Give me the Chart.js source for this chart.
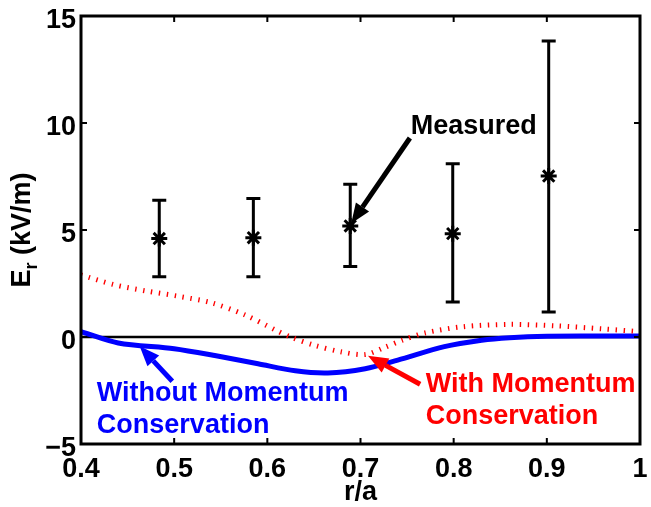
<!DOCTYPE html>
<html>
<head>
<meta charset="utf-8">
<script src="https://cdn.jsdelivr.net/npm/chart.js@4.4.0/dist/chart.umd.min.js"></script>
<style>
  html, body { margin: 0; padding: 0; background: #fff; }
</style>
</head>
<body>
<canvas id="chart" width="651" height="507"></canvas>
<script>
// Measured E_r with error bars
const measR = [0.484, 0.585, 0.689, 0.799, 0.902];
const measE = [4.6, 4.64, 5.19, 4.83, 7.52];
const measHi = [6.39, 6.47, 7.14, 8.1, 13.83];
const measLo = [2.82, 2.82, 3.3, 1.64, 1.17];

// Model without momentum conservation (blue solid)
const noMomR = [0.40, 0.44, 0.50, 0.545, 0.59, 0.63, 0.665, 0.705, 0.74, 0.79, 0.83, 0.86, 0.90, 0.95, 1.0];
const noMomE = [0.25, -0.28, -0.55, -0.88, -1.25, -1.58, -1.68, -1.48, -1.08, -0.45, -0.15, -0.03, 0.04, 0.05, 0.05];

// Model with momentum conservation (red dotted)
const withMomR = [0.40, 0.435, 0.47, 0.505, 0.54, 0.575, 0.61, 0.625, 0.65, 0.68, 0.705, 0.725, 0.745, 0.77, 0.81, 0.86, 0.91, 0.96, 1.0];
const withMomE = [2.9, 2.45, 2.15, 1.9, 1.6, 1.05, 0.3, 0.0, -0.38, -0.7, -0.82, -0.5, -0.15, 0.2, 0.48, 0.59, 0.52, 0.38, 0.25];

const xTicks = [0.4, 0.5, 0.6, 0.7, 0.8, 0.9, 1];
const xTickLabels = ['0.4', '0.5', '0.6', '0.7', '0.8', '0.9', '1'];
const yTicks = [-5, 0, 5, 10, 15];
const yTickLabels = ['\u22125', '0', '5', '10', '15'];

const FONT = "'Liberation Sans', Arial, Helvetica, sans-serif";

// annotation text + arrows, in data coordinates
const notes = [
    { lines: ['Measured'], x: 0.754, y: 9.47, color: '#000', tail: [0.753, 9.3], tip: [0.690, 5.3] },
    { lines: ['Without Momentum', 'Conservation'], x: 0.417, y: -2.99, color: '#0000ff', tail: [0.498, -2.07], tip: [0.463, -0.43] },
    { lines: ['With Momentum', 'Conservation'], x: 0.770, y: -2.58, color: '#ff0000', tail: [0.764, -2.21], tip: [0.708, -0.88] }
];

function toPts(xs, ys) {
    return xs.map((x, i) => ({ x: x, y: ys[i] }));
}

function drawArrow(ctx, x0, y0, x1, y1, color) {
    const ang = Math.atan2(y1 - y0, x1 - x0);
    const headLen = 20, headW = 8;
    const bx = x1 - headLen * Math.cos(ang), by = y1 - headLen * Math.sin(ang);
    ctx.strokeStyle = color;
    ctx.lineWidth = 5;
    ctx.beginPath();
    ctx.moveTo(x0, y0);
    ctx.lineTo(bx, by);
    ctx.stroke();
    ctx.fillStyle = color;
    ctx.beginPath();
    ctx.moveTo(x1, y1);
    ctx.lineTo(bx + headW * Math.sin(ang), by - headW * Math.cos(ang));
    ctx.lineTo(bx - headW * Math.sin(ang), by + headW * Math.cos(ang));
    ctx.closePath();
    ctx.fill();
}

const matlabAxes = {
    id: 'matlabAxes',
    beforeDatasetsDraw(chart) {
        const { ctx, chartArea: a, scales: { x, y } } = chart;
        ctx.save();
        // zero line
        ctx.strokeStyle = '#000';
        ctx.lineWidth = 2.5;
        ctx.beginPath();
        ctx.moveTo(a.left, y.getPixelForValue(0));
        ctx.lineTo(a.right, y.getPixelForValue(0));
        ctx.stroke();
        // error bars
        ctx.lineWidth = 3;
        measR.forEach((r, i) => {
            const px = x.getPixelForValue(r);
            const hi = y.getPixelForValue(measHi[i]);
            const lo = y.getPixelForValue(measLo[i]);
            ctx.beginPath();
            ctx.moveTo(px, hi); ctx.lineTo(px, lo);
            ctx.moveTo(px - 7, hi); ctx.lineTo(px + 7, hi);
            ctx.moveTo(px - 7, lo); ctx.lineTo(px + 7, lo);
            ctx.stroke();
        });
        ctx.restore();
    },
    afterDraw(chart) {
        const { ctx, chartArea: a, scales: { x, y } } = chart;
        ctx.save();
        ctx.strokeStyle = '#000';
        ctx.lineWidth = 3;
        ctx.strokeRect(a.left, a.top, a.right - a.left, a.bottom - a.top);
        ctx.lineWidth = 2;
        ctx.beginPath();
        xTicks.forEach(v => {
            const px = x.getPixelForValue(v);
            ctx.moveTo(px, a.bottom); ctx.lineTo(px, a.bottom - 6);
            ctx.moveTo(px, a.top); ctx.lineTo(px, a.top + 6);
        });
        yTicks.forEach(v => {
            const py = y.getPixelForValue(v);
            ctx.moveTo(a.left, py); ctx.lineTo(a.left + 6, py);
            ctx.moveTo(a.right, py); ctx.lineTo(a.right - 6, py);
        });
        ctx.stroke();

        // tick labels
        ctx.fillStyle = '#000';
        ctx.font = 'bold 27px ' + FONT;
        ctx.textBaseline = 'alphabetic';
        ctx.textAlign = 'center';
        xTicks.forEach((v, i) => ctx.fillText(xTickLabels[i], x.getPixelForValue(v), a.bottom + 33));
        ctx.textAlign = 'right';
        yTicks.forEach((v, i) => ctx.fillText(yTickLabels[i], a.left - 5, y.getPixelForValue(v) + 12));

        // annotations
        ctx.textAlign = 'left';
        notes.forEach(n => {
            ctx.fillStyle = n.color;
            const tx = x.getPixelForValue(n.x);
            const ty = y.getPixelForValue(n.y);
            n.lines.forEach((s, k) => ctx.fillText(s, tx, ty + k * 32));
            drawArrow(ctx, x.getPixelForValue(n.tail[0]), y.getPixelForValue(n.tail[1]),
                x.getPixelForValue(n.tip[0]), y.getPixelForValue(n.tip[1]), n.color);
        });

        // axis titles
        ctx.fillStyle = '#000';
        ctx.textAlign = 'center';
        ctx.fillText('r/a', (a.left + a.right) / 2, 500);

        ctx.translate(30, (a.top + a.bottom) / 2);
        ctx.rotate(-Math.PI / 2);
        ctx.textAlign = 'left';
        const big = 'bold 27px ' + FONT, small = 'bold 18px ' + FONT;
        ctx.font = big;
        const wE = ctx.measureText('E').width;
        const wRest = ctx.measureText(' (kV/m)').width;
        ctx.font = small;
        const wR = ctx.measureText('r').width;
        let cx = -(wE + wR + wRest) / 2;
        ctx.font = big;
        ctx.fillText('E', cx, 0);
        cx += wE;
        ctx.font = small;
        ctx.fillText('r', cx, 7);
        cx += wR;
        ctx.font = big;
        ctx.fillText(' (kV/m)', cx, 0);
        ctx.restore();
    }
};

new Chart(document.getElementById('chart'), {
    type: 'scatter',
    data: {
        datasets: [
            {
                label: 'With Momentum Conservation',
                data: toPts(withMomR, withMomE),
                showLine: true,
                borderColor: '#ff0000',
                borderWidth: 5,
                borderDash: [1.4, 6.6],
                borderCapStyle: 'butt',
                pointRadius: 0,
                tension: 0.3
            },
            {
                label: 'Without Momentum Conservation',
                data: toPts(noMomR, noMomE),
                showLine: true,
                borderColor: '#0000ff',
                borderWidth: 5,
                pointRadius: 0,
                tension: 0.3
            },
            {
                label: 'Measured',
                data: toPts(measR, measE),
                showLine: false,
                pointStyle: 'star',
                pointRadius: 8,
                borderColor: '#000',
                backgroundColor: '#000',
                borderWidth: 3
            }
        ]
    },
    options: {
        responsive: false,
        animation: false,
        layout: { padding: { top: 16, right: 6, left: 0, bottom: 0 } },
        plugins: {
            legend: { display: false },
            tooltip: { enabled: false }
        },
        scales: {
            x: {
                type: 'linear',
                min: 0.4,
                max: 1,
                afterFit: s => { s.height = 63; },
                grid: { display: false, drawTicks: false },
                border: { display: false },
                ticks: { display: false }
            },
            y: {
                min: -5,
                max: 15,
                afterFit: s => { s.width = 81; },
                grid: { display: false, drawTicks: false },
                border: { display: false },
                ticks: { display: false }
            }
        }
    },
    plugins: [matlabAxes]
});
</script>
</body>
</html>
